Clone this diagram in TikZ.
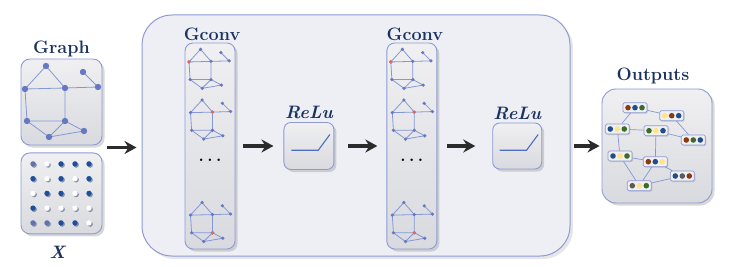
\documentclass[tikz,border=0pt]{standalone}
\usepackage{tikz}
\usetikzlibrary{arrows.meta, positioning, shadows}

\definecolor{navy}{HTML}{1C3361}
\definecolor{rim}{HTML}{8D9AD3}
\definecolor{panelTop}{HTML}{F0F0F2}
\definecolor{panelBot}{HTML}{D9DADF}
\definecolor{stageFill}{HTML}{EDEFF4}
\definecolor{edgeblue}{HTML}{8497D6}
\definecolor{vertexblue}{HTML}{6678BF}
\definecolor{hotred}{HTML}{E9674D}
\definecolor{dotdark}{HTML}{1F4E9A}
\definecolor{dotmid}{HTML}{6272AE}
\definecolor{curveblue}{HTML}{4A6FC2}
\definecolor{arrowgray}{HTML}{2B2B2B}
\definecolor{chipbrown}{HTML}{8A3A12}
\definecolor{chipblue}{HTML}{1F4E8A}
\definecolor{chipgreen}{HTML}{3D6B2A}
\definecolor{chipyellow}{HTML}{FFE389}
\definecolor{chipgray}{HTML}{5A5A5A}

\tikzstyle{panel} = [rectangle, rounded corners=9pt, draw=rim, line width=0.9pt, top color=panelTop, bottom color=panelBot, inner sep=0pt, drop shadow={shadow xshift=2.5pt, shadow yshift=-2.5pt, opacity=0.3}]
\tikzstyle{stage} = [rectangle, rounded corners=30pt, draw=rim, line width=1pt, fill=stageFill, drop shadow={shadow xshift=3pt, shadow yshift=-3pt, opacity=0.2}]
\tikzstyle{heading} = [inner sep=0pt, text=navy, font=\fontsize{18}{21}\selectfont\bfseries]
\tikzstyle{iheading} = [heading, font=\fontsize{18}{21}\selectfont\bfseries\itshape]
\tikzstyle{chip} = [rectangle, rounded corners=1.5pt, draw=rim, line width=0.7pt, fill=panelTop, minimum width=24pt, minimum height=10pt, inner sep=0pt, drop shadow={shadow xshift=1pt, shadow yshift=-1pt, opacity=0.3}]
\tikzstyle{netedge} = [draw=edgeblue, line width=0.8pt]
\tikzstyle{vertex} = [fill=vertexblue]
\tikzstyle{hotvertex} = [fill=hotred]
\tikzstyle{dotshade} = [drop shadow={shadow xshift=1.2pt, shadow yshift=-1.2pt, opacity=0.45, fill=navy}]
\tikzstyle{relucurve} = [draw=curveblue, line width=1.1pt]
\tikzstyle{flowarrow} = [line width=3.5pt, draw=arrowgray, -{Stealth[length=12pt, width=13pt, inset=4pt]}]

\tikzset{
  pics/netgraph/.style={code={
    \foreach \v/\pos in {1/{21,0}, 2/{58,6}, 3/{73,21}, 4/{0,23}, 5/{40,22}, 6/{2,55}, 7/{40,55}, 8/{59,65}, 9/{24,71}}
      \coordinate (-v\v) at (\pos);
    \draw[netedge] (-v4) -- (-v1) -- (-v5) -- (-v4) -- (-v6) -- (-v7) -- (-v5) -- (-v3) -- (-v2)
                   (-v6) -- (-v9) -- (-v7) -- (-v8) -- (-v9);
    \foreach \v in {1,...,9}
      \fill[vertex] (-v\v) circle (3.2pt);
    \ifnum#1>0 \fill[hotvertex] (-v#1) circle (3.2pt); \fi
  }},
  pics/netgraph/.default=0
}

\begin{document}
\begin{tikzpicture}[x=1pt, y=-1pt]
  \useasboundingbox (0,0) rectangle (730,267);

  % Place nodes
  \node (graph) [panel, minimum width=81pt, minimum height=86pt] at (61.5,102) {};
  \node (feat) [panel, minimum width=81pt, minimum height=81pt, below=7pt of graph] {};
  \node (model) [stage, minimum width=428pt, minimum height=241pt] at (356,135.5) {};
  \node (gconv1) [panel, rounded corners=8pt, minimum width=50pt, minimum height=206pt] at (210,146) {};
  \node (relu1) [panel, rounded corners=7pt, minimum width=50pt, minimum height=47pt, right=48pt of gconv1] {};
  \node (gconv2) [panel, rounded corners=8pt, minimum width=50pt, minimum height=206pt, right=52pt of relu1] {};
  \node (relu2) [panel, rounded corners=7pt, minimum width=49pt, minimum height=46pt, right=55pt of gconv2] {};
  \node (outputs) [panel, rounded corners=14pt, minimum width=110pt, minimum height=114pt] at (657,146) {};

  % Titles
  \node (graphtitle) [heading, above=1pt of graph] {Graph};
  \node (feattitle) [iheading, below=12pt of feat, xshift=-4pt] {X};
  \node (gtitle1) [heading, above=2pt of gconv1, xshift=2pt] {Gconv};
  \node (rtitle1) [iheading, above=3pt of relu1] {ReLu};
  \node (gtitle2) [heading, above=2pt of gconv2, xshift=3pt] {Gconv};
  \node (rtitle2) [iheading, above=3pt of relu2] {ReLu};
  \node (otitle) [heading, above=4pt of outputs, xshift=-4pt] {Outputs};

  % Input graph and feature grid
  \pic (G) at ([shift={(-36.5,-36)}]graph.center) {netgraph};
  \foreach \row/\cols in {0/{dotmid,white,dotdark,dotdark,dotdark},
                          1/{dotdark,white,dotdark,white,dotdark},
                          2/{white,dotdark,dotdark,white,dotdark},
                          3/{dotdark,white,white,white,white},
                          4/{dotmid,dotmid,dotdark,dotdark,white}}
    \foreach \c [count=\k from 0] in \cols
      \fill[\c, dotshade] ([shift={({-28.5+14*\k},{-29.5+14.75*\row})}]feat.center) circle (2.7pt);

  % Graph convolution columns
  \foreach \col/\dt in {gconv1/dots1, gconv2/dots2} {
    \pic[scale=0.55] (\col a) at ([shift={(-21,-96.7)}]\col.center) {netgraph=4};
    \pic[scale=0.55] (\col b) at ([shift={(-19.5,-46)}]\col.center) {netgraph=5};
    \pic[scale=0.55] (\col c) at ([shift={(-19.5,56.5)}]\col.center) {netgraph=7};
    \node (\dt) [font=\fontsize{17}{20}\selectfont\bfseries] at ([yshift=-14pt]\col.center) {.\hspace{3.5pt}.\hspace{3.5pt}.};
  }

  % Activation curves
  \foreach \r in {relu1, relu2}
    \draw[relucurve] ([shift={(-17.6,4.2)}]\r.center) -- ++(27,0) -- ++(11.6,-15.7);

  % Output graph
  \foreach \nm/\px/\py/\ca/\cb/\cc in {
      b1/635/107.7/chipbrown/chipblue/chipgreen,
      b2/671.7/115.7/chipyellow/chipbrown/chipblue,
      b3/617.3/129/chipblue/chipyellow/chipgreen,
      b4/656/130.7/chipgreen/chipyellow/chipblue,
      b5/693.3/140/chipbrown/chipgreen/chipblue,
      b6/620/156/chipblue/chipyellow/chipgreen,
      b7/655.3/161.7/chipbrown/chipblue/chipyellow,
      b8/682.3/176/chipblue/chipgray/chipbrown,
      b9/639.3/185.7/chipgray/chipyellow/chipgreen} {
    \node (\nm) [chip] at (\px,\py) {};
    \fill[\ca] ([xshift=-7pt]\nm.center) circle (2.8pt);
    \fill[\cb] (\nm.center) circle (2.8pt);
    \fill[\cc] ([xshift=7pt]\nm.center) circle (2.8pt);
  }
  \draw[netedge, line width=0.7pt] (b1) -- (b2) (b1) -- (b3) (b3) -- (b4) (b2) -- (b5) (b4) -- (b5)
        (b3) -- (b6) (b4) -- (b7) (b6) -- (b7) (b6) -- (b9) (b7) -- (b9) (b8) -- (b9) (b7) -- (b8);

  % Draw edges
  \coordinate (inlet) at (107,147.5);
  \draw[flowarrow, shorten >=5pt] (inlet) -- (inlet -| model.west);
  \draw[flowarrow, shorten <=8pt, shorten >=10pt] (gconv1) -- (relu1);
  \draw[flowarrow, shorten <=14pt, shorten >=9pt] (relu1) -- (gconv2);
  \draw[flowarrow, shorten <=10pt, shorten >=17pt] (gconv2) -- (relu2);
  \draw[flowarrow, shorten <=3pt, shorten >=2pt] (model.east |- outputs) -- (outputs);
\end{tikzpicture}
\end{document}
